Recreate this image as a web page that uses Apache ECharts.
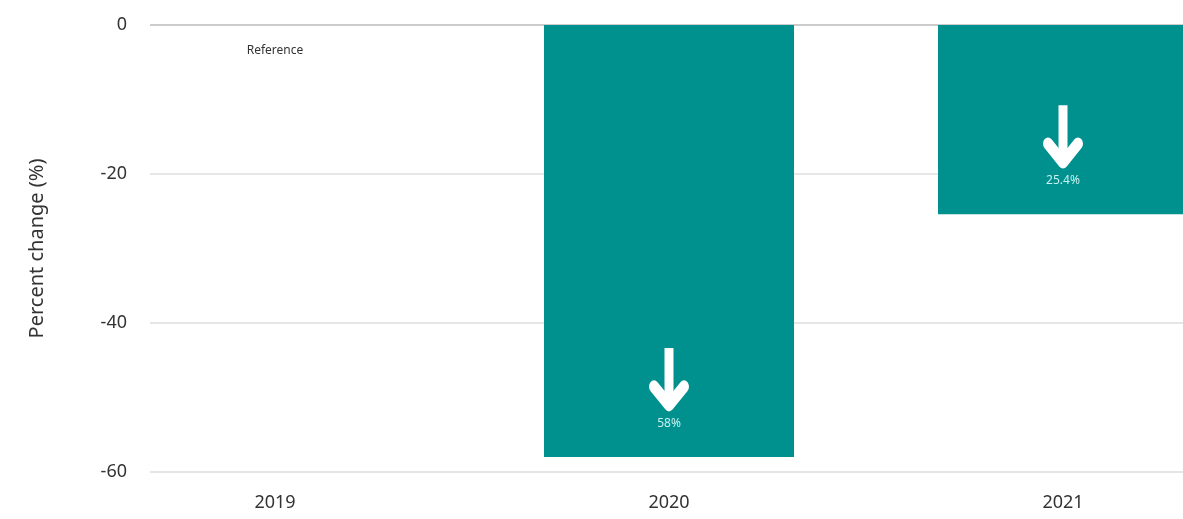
<!DOCTYPE html>
<html>
<head>
<meta charset="utf-8">
<script src="https://cdn.jsdelivr.net/npm/echarts@6/dist/echarts.min.js"></script>
<style>
  html, body { margin: 0; padding: 0; background: #fff; }
  #main { width: 1183px; height: 519px; }
</style>
</head>
<body>
<div id="main"></div>
<script>
// data
var years = ['2019', '2020', '2021']
var change = [0, -58, -25.4]
var changeText = ['Reference', '58%', '25.4%']
var yTicks = [-60, -40, -20, 0]

var FONT = '"Noto Sans", sans-serif'
var arrowSvg = 'data:image/svg+xml;utf8,' + encodeURIComponent(
  '<svg xmlns="http://www.w3.org/2000/svg" width="40" height="58" viewBox="0 0 40 58">' +
  '<line x1="20" y1="4" x2="20" y2="50" stroke="#fff" stroke-width="9" stroke-linecap="butt"/>' +
  '<polyline points="5,35 20,50 35,35" fill="none" stroke="#fff" stroke-width="10" stroke-linecap="round" stroke-linejoin="round"/>' +
  '</svg>')

var myChart = echarts.init(document.getElementById('main'))

var barData = change.map(function (v, i) {
  if (v === 0) {
    return {
      value: v,
      label: {
        show: true, position: 'bottom', distance: 20,
        formatter: changeText[i], color: '#333', fontSize: 12, fontFamily: FONT
      }
    }
  }
  return {
    value: v,
    label: {
      show: true, position: 'insideBottom', distance: 26,
      formatter: '{arrow|}\n{pct|' + changeText[i] + '}'
    }
  }
})

var option = {
  animation: false,
  grid: [
    // grid that carries the value axis and gridlines
    { left: 150, right: 0, top: 25, bottom: 47, outerBoundsMode: 'none' },
    // grid for bars, wider than the window (chart is cropped on the right)
    { left: 78, width: 1182, top: 25, bottom: 47, outerBoundsMode: 'none' }
  ],
  xAxis: [
    { gridIndex: 0, type: 'category', data: years, show: false },
    {
      gridIndex: 1, type: 'category', data: years,
      axisLine: { show: false }, axisTick: { show: false },
      axisLabel: { color: '#333', fontSize: 18, fontFamily: FONT, margin: 22 }
    }
  ],
  yAxis: [
    {
      gridIndex: 0, type: 'value', min: yTicks[0], max: yTicks[yTicks.length - 1], interval: 20,
      name: 'Percent change (%)', nameLocation: 'middle', nameGap: 103,
      nameTextStyle: { color: '#333', fontSize: 20, fontFamily: FONT },
      axisLine: { show: false }, axisTick: { show: false },
      axisLabel: { color: '#333', fontSize: 18, fontFamily: FONT, margin: 23 },
      splitLine: { lineStyle: { color: ['#e6e6e6', '#e6e6e6', '#e6e6e6', '#cccccc'], width: 2 } }
    },
    { gridIndex: 1, type: 'value', min: yTicks[0], max: yTicks[yTicks.length - 1], show: false }
  ],
  series: [{
    type: 'bar',
    xAxisIndex: 1,
    yAxisIndex: 1,
    data: barData,
    barWidth: 250,
    itemStyle: { color: '#00918f' },
    label: {
      rich: {
        arrow: { width: 40, height: 58, backgroundColor: { image: arrowSvg }, padding: [0, 0, 14, 0] },
        pct: { color: '#c6f0ef', fontSize: 12, fontFamily: FONT, lineHeight: 16, align: 'center' }
      }
    }
  }]
}
myChart.setOption(option)
</script>
</body>
</html>
